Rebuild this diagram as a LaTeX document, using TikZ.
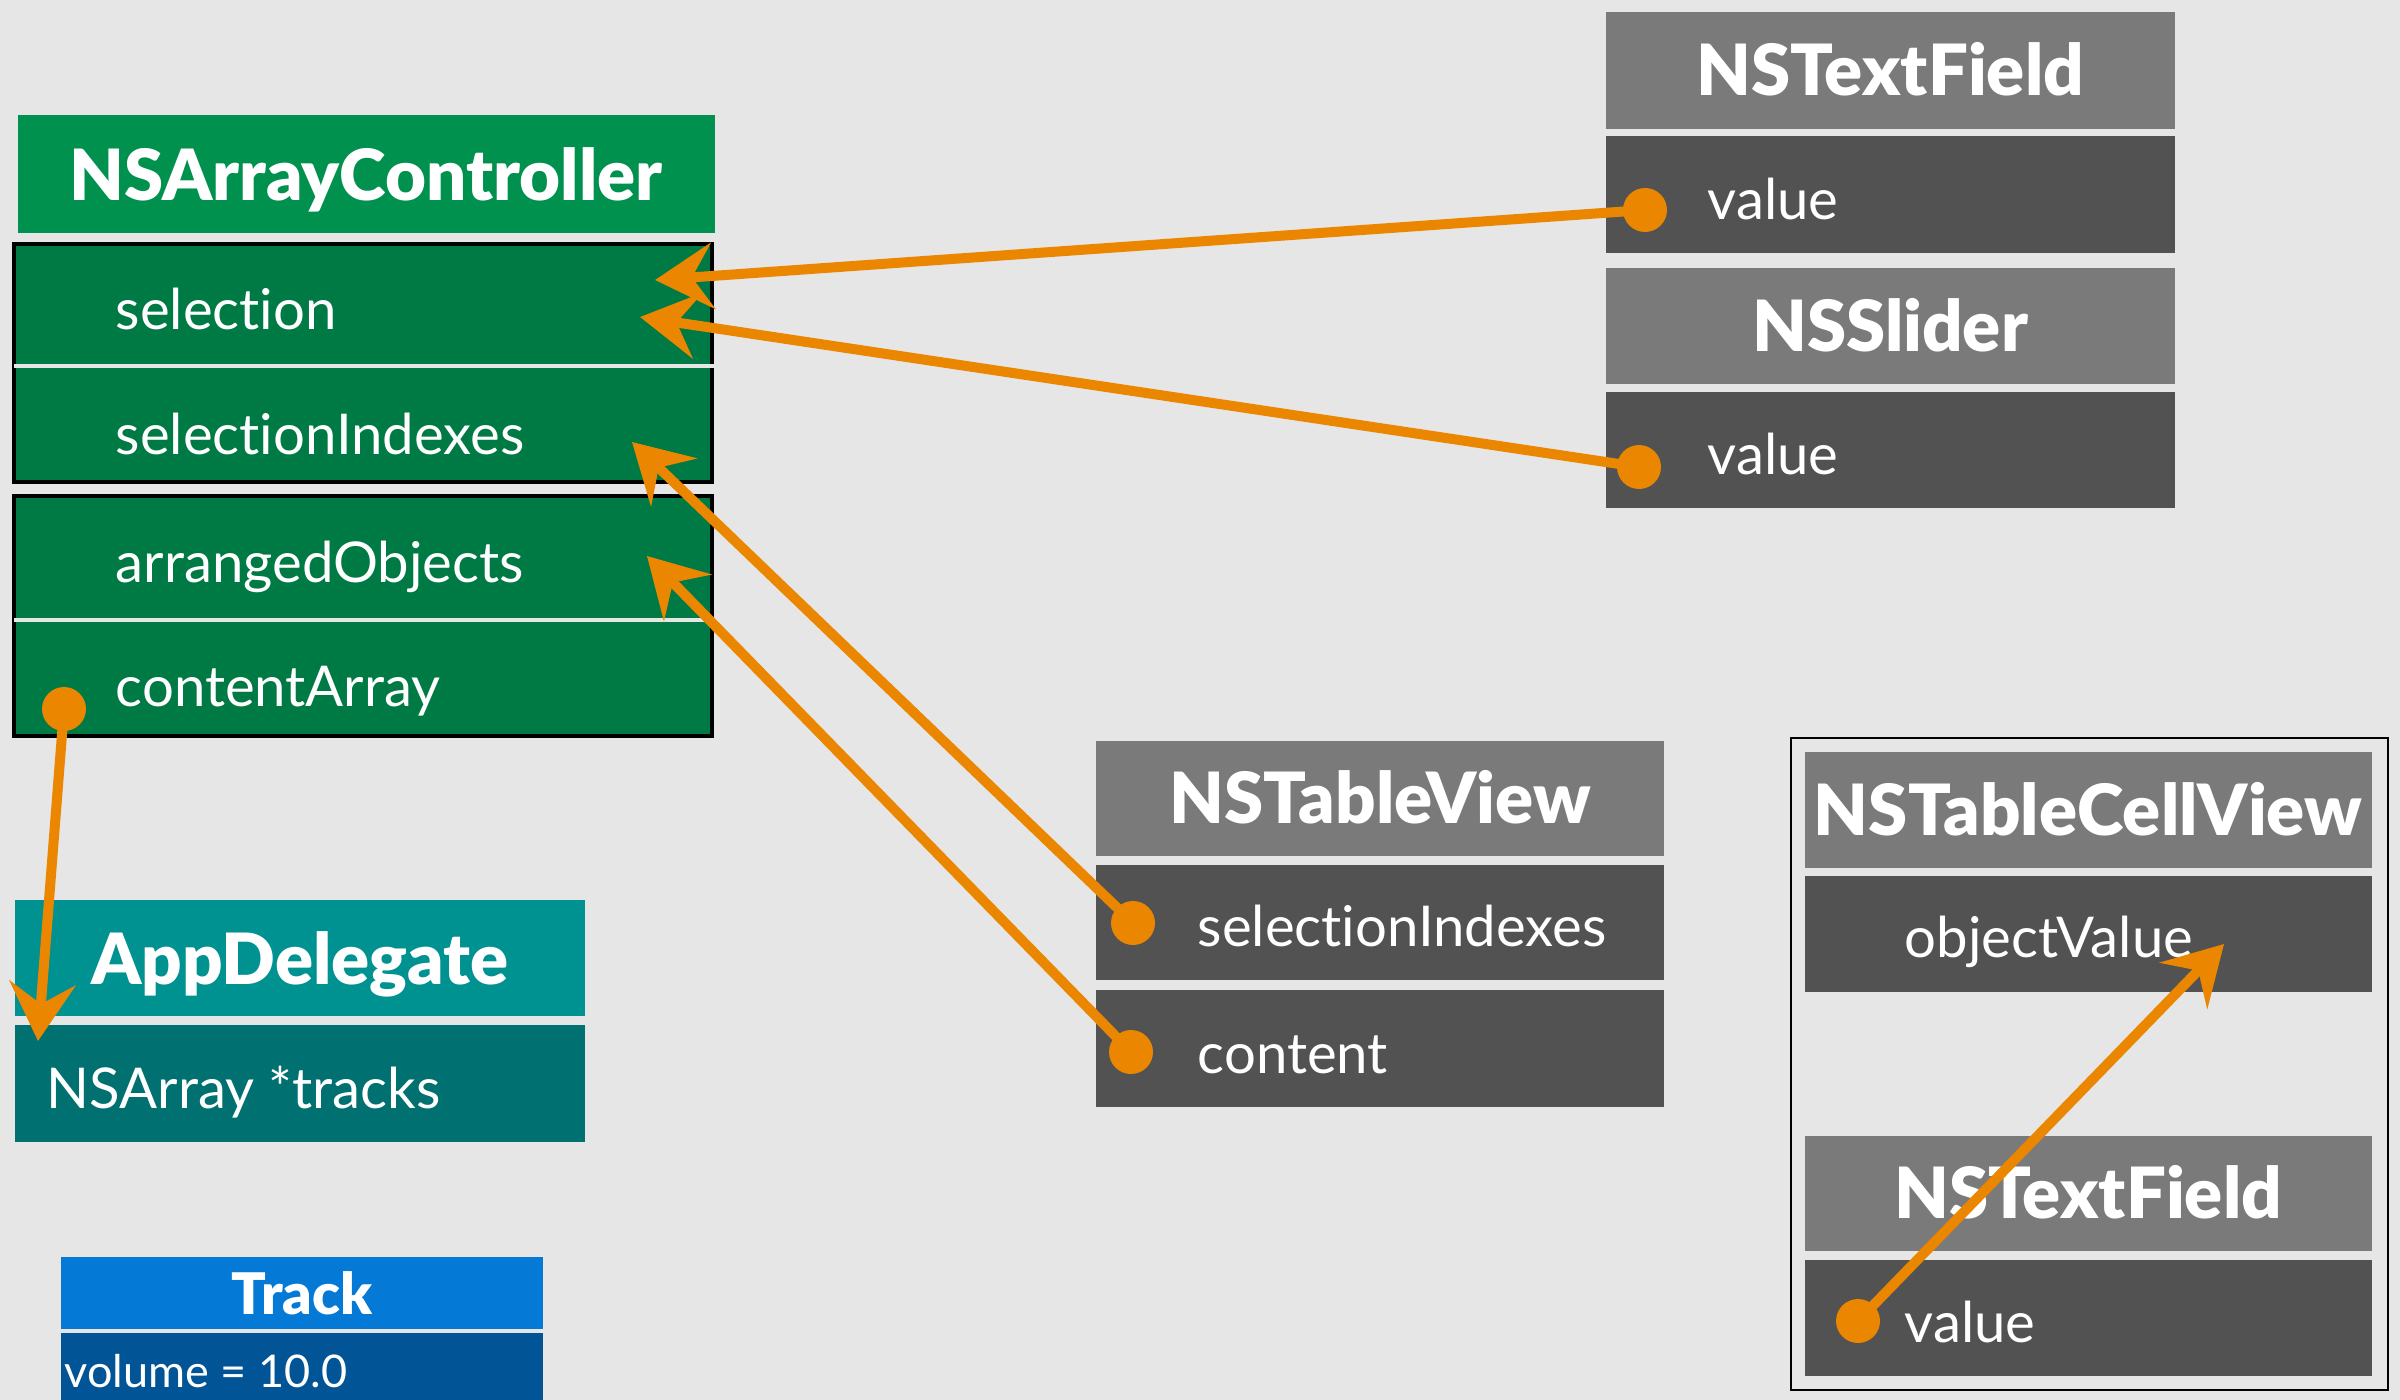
\documentclass[tikz,border=0pt]{standalone}
\usepackage{fontspec}
\setmainfont{Lato}[Ligatures={NoCommon}, BoldFont={Lato Black}]
\usetikzlibrary{arrows.meta,fit}

\definecolor{bgc}{HTML}{E6E6E6}
\definecolor{greenhead}{HTML}{00914F}
\definecolor{greenbody}{HTML}{007A45}
\definecolor{greyhead}{HTML}{7A7A7A}
\definecolor{greybody}{HTML}{525252}
\definecolor{tealhead}{HTML}{009191}
\definecolor{tealbody}{HTML}{007070}
\definecolor{bluehead}{HTML}{0479D6}
\definecolor{bluebody}{HTML}{015597}
\definecolor{bindorange}{HTML}{EA8600}

\tikzset{
  panel/.style={inner sep=0pt, outer sep=0pt, draw=none},
  ttl/.style={font=\fontsize{20.1}{24}\selectfont\bfseries, text=white, inner sep=0pt, anchor=base},
  smallttl/.style={font=\fontsize{16.3}{19}\selectfont\bfseries, text=white, inner sep=0pt, anchor=base},
  lbl/.style={font=\fontsize{16}{19}\selectfont, text=white, inner sep=0pt, anchor=base west},
  smalllbl/.style={font=\fontsize{12.8}{15}\selectfont, text=white, inner sep=0pt, anchor=base west},
  divider/.style={draw=bgc, line width=0.04cm},
  knob/.style={fill=bindorange},
  bind/.style={draw=bindorange, line width=0.1cm,
    -{Stealth[length=0.58cm,width=0.66cm,inset=0.21cm]}},
}

\begin{document}
\begin{tikzpicture}[x=0.01cm,y=-0.01cm]
\useasboundingbox (0,0) rectangle (2400,1400);
\fill[bgc] (0,0) rectangle (2400,1400);

% ---------- NSArrayController ----------
\node[panel, fill=greenhead, fit={(18,115) (715,233)}] (ach) {};
\node[ttl] (acht) at (366,200) {NSArrayController};
\node[panel, fill=greenbody, draw=black, line width=0.04cm, fit={(14,244) (712,482)}] (acsel) {};
\node[panel, fill=greenbody, draw=black, line width=0.04cm, fit={(14,496) (712,736)}] (acarr) {};
\draw[divider] (acsel.west |- 0,366) -- (715,366);
\draw[divider] (acarr.west |- 0,620) -- (715,620);
\node[lbl] (lsel) at (115,329) {selection};
\node[lbl] (lselidx) at (115,454) {selectionIndexes};
\node[lbl] (larr) at (115,582) {arrangedObjects};
\node[lbl] (lcont) at (115,706) {contentArray};

% ---------- AppDelegate ----------
\node[panel, fill=tealhead, fit={(15,900) (585,1016)}] (adh) {};
\node[ttl] (adht) at (300,984) {AppDelegate};
\node[panel, fill=tealbody, fit={(15,1025) (585,1142)}] (adb) {};
\node[lbl] (ltracks) at (46,1108) {NSArray *tracks};

% ---------- Track ----------
\node[panel, fill=bluehead, fit={(61,1257) (543,1329)}] (trh) {};
\node[smallttl] (trht) at (302,1314) {Track};
\node[panel, fill=bluebody, fit={(61,1333) (543,1400)}] (trb) {};
\node[smalllbl] (lvol) at (64,1387) {volume = 10.0};

% ---------- NSTextField / NSSlider ----------
\node[panel, fill=greyhead, fit={(1606,12) (2175,129)}] (tfh) {};
\node[ttl] (tfht) at (1890,96) {NSTextField};
\node[panel, fill=greybody, fit={(1606,136) (2175,253)}] (tfb) {};
\node[lbl] (ltfv) at (1707,219) {value};
\node[panel, fill=greyhead, fit={(1606,268) (2175,384)}] (slh) {};
\node[ttl] (slht) at (1890,351) {NSSlider};
\node[panel, fill=greybody, fit={(1606,392) (2175,508)}] (slb) {};
\node[lbl] (lslv) at (1707,474) {value};

% ---------- NSTableView ----------
\node[panel, fill=greyhead, fit={(1096,741) (1664,856)}] (tvh) {};
\node[ttl] (tvht) at (1380,823) {NSTableView};
\node[panel, fill=greybody, fit={(1096,865) (1664,980)}] (tvsel) {};
\node[lbl] (ltvsel) at (1197,946) {selectionIndexes};
\node[panel, fill=greybody, fit={(1096,990) (1664,1107)}] (tvcont) {};
\node[lbl] (ltvcont) at (1197,1073) {content};

% ---------- NSTableCellView ----------
\node[panel, draw=black, line width=0.02cm, fit={(1791,738) (2388,1390)}] (cell) {};
\node[panel, fill=greyhead, fit={(1805,752) (2372,868)}] (tcvh) {};
\node[ttl] (tcvht) at (2088,835) {NSTableCellView};
\node[panel, fill=greybody, fit={(1805,876) (2372,992)}] (tcvb) {};
\node[lbl] (lobj) at (1904,957) {objectValue};
\node[panel, fill=greyhead, fit={(1805,1136) (2372,1251)}] (itfh) {};
\node[ttl] (itfht) at (2088,1218) {NSTextField};
\node[panel, fill=greybody, fit={(1805,1260) (2372,1376)}] (itfb) {};
\node[lbl] (litfv) at (1904,1342) {value};

% ---------- binding end points ----------
\coordinate (dTF)   at (1645,210);
\coordinate (dSL)   at (1639,467);
\coordinate (dTVS)  at (1133,923);
\coordinate (dTVC)  at (1131,1052);
\coordinate (dCA)   at (64,709);
\coordinate (dIV)   at (1858,1321);
\coordinate (tSel1) at (655,280);
\coordinate (tSel2) at (640,317);
\coordinate (tIdx)  at (632,442);
\coordinate (tArr)  at (647,556);
\coordinate (tTrk)  at (38,1041);
\coordinate (tObj)  at (2224,944);

% ---------- bindings ----------
\draw[bind] (dTF) -- (tSel1);
\draw[bind] (dSL) -- (tSel2);
\draw[bind] (dTVS) -- (tIdx);
\draw[bind] (dTVC) -- (tArr);
\draw[bind] (dCA) -- (tTrk);
\draw[bind] (dIV) -- (tObj);
\foreach \d in {dTF,dSL,dTVS,dTVC,dCA,dIV}
  \fill[knob] (\d) circle[radius=22];
\end{tikzpicture}
\end{document}
